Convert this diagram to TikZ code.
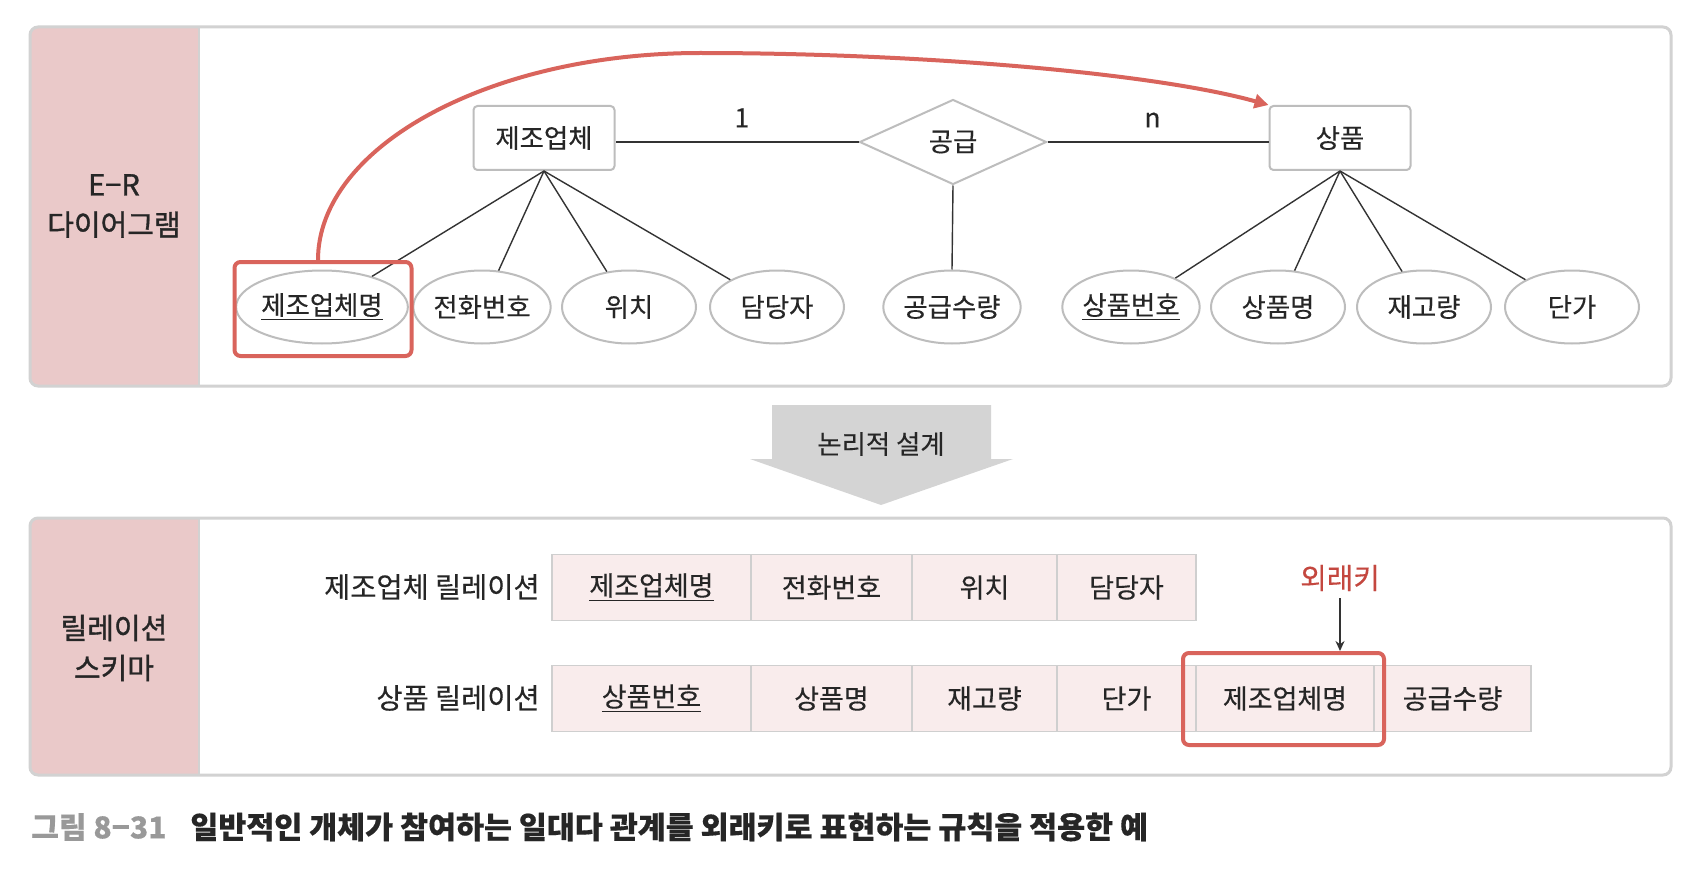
\documentclass[tikz,border=0pt]{standalone}
\usepackage{fontspec}
\setmainfont{Noto Sans CJK KR}[FakeBold=0.3]
\newfontfamily\sidefont{Noto Sans CJK KR}[FakeBold=1.2]
\usetikzlibrary{shapes.geometric,arrows.meta}
\definecolor{stripPink}{HTML}{EAC9C9}
\definecolor{panelGray}{HTML}{D2D2D2}
\definecolor{shapeGray}{HTML}{BDBDBD}
\definecolor{lineDark}{HTML}{333333}
\definecolor{textDark}{HTML}{262626}
\definecolor{keyRed}{HTML}{D9645C}
\definecolor{fkRed}{HTML}{C4473F}
\definecolor{cellPink}{HTML}{F9ECEC}
\definecolor{cellGray}{HTML}{CFCFCF}
\definecolor{bigArrow}{HTML}{D4D4D4}
\definecolor{capGray}{HTML}{999999}
\begin{document}
\begin{tikzpicture}[x=0.5pt,y=-0.5pt,
  every node/.style={text=textDark, font=\fontsize{13.2}{15}\selectfont},
  entity/.style={draw=shapeGray, line width=1pt, rounded corners=2pt, fill=white, minimum width=70.5pt, minimum height=32pt, inner sep=0pt},
  relship/.style={diamond, draw=shapeGray, line width=1pt, fill=white, minimum width=93.5pt, minimum height=42.5pt, inner sep=0pt},
  attrib/.style={ellipse, draw=shapeGray, line width=1pt, fill=white, minimum width=67pt, minimum height=36.5pt, inner sep=0pt},
  link/.style={draw=lineDark, line width=0.7pt},
  redframe/.style={draw=keyRed, line width=2pt, rounded corners=3pt, inner sep=0pt},
  cell/.style={draw=cellGray, line width=0.8pt, fill=cellPink, minimum height=33pt, inner sep=0pt, font=\fontsize{13.5}{15}\selectfont},
  sidelabel/.style={align=center, font=\sidefont\fontsize{14.5}{20}\selectfont},
  rowlabel/.style={anchor=east, inner sep=0pt, font=\fontsize{14.2}{16}\selectfont},
]
\useasboundingbox (0,0) rectangle (1704,872);
\fill[white] (0,0) rectangle (1704,872);

% ---------- top panel ----------
\fill[white, rounded corners=4pt] (30,27) rectangle (1671,386);
\fill[stripPink, rounded corners=4pt] (30,27) rectangle (199,386);
\fill[stripPink] (150,27) rectangle (199,386);
\draw[panelGray, line width=1pt] (199,27) -- (199,386);
\draw[panelGray, line width=1.5pt, rounded corners=4pt] (30,27) rectangle (1671,386);
\node[sidelabel] (erlab) at (114,206) {E−R\\다이어그램};

\node[entity] (e1) at (544,138) {제조업체};
\node[relship] (d) at (953,142) {공급};
\node[entity] (e2) at (1340,138) {상품};

\draw[link] (d.west) -- (d.west -| e1.east) node[pos=0.48, above=7pt, inner sep=0pt] (one) {1};
\draw[link] (d.east) -- (d.east -| e2.west) node[pos=0.475, above=7pt, inner sep=0pt] (many) {n};

\node[attrib, minimum width=79.5pt] (a1) at (322,307) {\underline{제조업체명}};
\node[attrib] (a2) at (482,307) {전화번호};
\node[attrib] (a3) at (629,307) {위치};
\node[attrib] (a4) at (777,307) {담당자};
\node[attrib] (q)  at (952,307) {공급수량};
\node[attrib] (b1) at (1131,307) {\underline{상품번호}};
\node[attrib] (b2) at (1278,307) {상품명};
\node[attrib] (b3) at (1424,307) {재고량};
\node[attrib] (b4) at (1572,307) {단가};

\foreach \n in {a1,a2,a3,a4} \draw[link] (\n) -- (e1.south);
\foreach \n in {b1,b2,b3,b4} \draw[link] (\n) -- (e2.south);
\draw[link] (d.south) -- (q.north);

\node[redframe, minimum width=88.5pt, minimum height=47pt] (rb1) at (323,309) {};
\coordinate (ctop) at (700,53);
\draw[keyRed, line width=2pt, -{Triangle[length=7pt,width=7pt]}]
  (rb1.north -| 318,0) .. controls (318,147) and (489,53) .. (ctop)
  .. controls (911,53) and (1150,72) .. (e2.north west);

% ---------- logical design arrow ----------
\fill[bigArrow] (772,405) -- (991,405) -- (991,459) -- (1013,459) -- (881,505) -- (750,459) -- (772,459) -- cycle;
\node (ld) at (881,444) {논리적 설계};

% ---------- bottom panel ----------
\fill[white, rounded corners=4pt] (30,518) rectangle (1671,775);
\fill[stripPink, rounded corners=4pt] (30,518) rectangle (199,775);
\fill[stripPink] (150,518) rectangle (199,775);
\draw[panelGray, line width=1pt] (199,518) -- (199,775);
\draw[panelGray, line width=1.5pt, rounded corners=4pt] (30,518) rectangle (1671,775);
\node[sidelabel] (rslab) at (114,648) {릴레이션\\스키마};

\node[rowlabel] (r1lab) at (540,587) {제조업체 릴레이션};
\node[rowlabel] (r2lab) at (540,698) {상품 릴레이션};

\node[cell, minimum width=99.5pt] (c11) at (651.5,587.5) {\underline{제조업체명}};
\node[cell, minimum width=80.5pt] (c12) at (831.5,587.5) {전화번호};
\node[cell, minimum width=72.5pt] (c13) at (984.5,587.5) {위치};
\node[cell, minimum width=69.5pt] (c14) at (1126.5,587.5) {담당자};

\node[cell, minimum width=99.5pt] (c21) at (651.5,698.5) {\underline{상품번호}};
\node[cell, minimum width=80.5pt] (c22) at (831.5,698.5) {상품명};
\node[cell, minimum width=72.5pt] (c23) at (984.5,698.5) {재고량};
\node[cell, minimum width=69.5pt] (c24) at (1126.5,698.5) {단가};
\node[cell, minimum width=89pt] (c25) at (1285,698.5) {제조업체명};
\node[cell, minimum width=78.5pt] (c26) at (1452.5,698.5) {공급수량};

\node[redframe, minimum width=100.5pt, minimum height=46pt] (rb2) at (1283.5,699) {};
\node[text=fkRed, font=\fontsize{14.4}{16}\selectfont] (fk) at (1340,578) {외래키};
\draw[lineDark, line width=0.7pt, -{Stealth[length=5pt,width=4.5pt]}] (fk.south) -- (fk.south |- rb2.north);

% ---------- caption ----------
\node[anchor=west, inner sep=0pt, text=capGray, font=\fontsize{15}{17}\bfseries\selectfont] (capnum) at (31,827) {그림 8−31};
\node[anchor=west, inner sep=0pt, text=textDark, font=\fontsize{15.2}{17}\bfseries\selectfont] (captext) at (190,827) {일반적인 개체가 참여하는 일대다 관계를 외래키로 표현하는 규칙을 적용한 예};
\end{tikzpicture}
\end{document}
